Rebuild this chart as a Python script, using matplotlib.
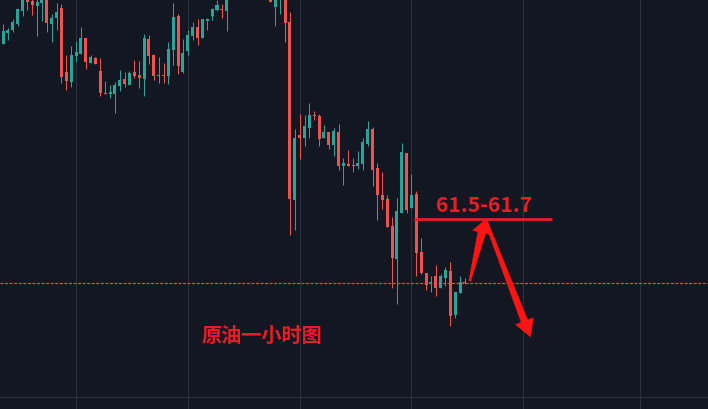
import matplotlib
matplotlib.use('Agg')
import matplotlib.pyplot as plt
from matplotlib.patches import Polygon
from matplotlib.transforms import IdentityTransform
import numpy as np

# ---------------- data (1-hour crude oil candles) ----------------
opens = [63.35, 63.46, 63.49, 63.55, 63.68, 63.86, 63.78, 63.73, 63.76, 63.84,
         63.55, 63.61, 63.71, 63.07, 62.97, 63.23, 63.25, 63.41, 63.16, 63.21,
         63.08, 62.85, 62.85, 62.85, 62.93, 63.00, 62.94, 63.07, 63.04, 63.00,
         63.40, 63.24, 63.04, 63.04, 63.03, 63.29, 63.63, 63.07, 63.28, 63.43,
         63.52, 63.41, 63.58, 63.63, 63.69, 63.70, 63.68, 63.85, 64.00, 64.10,
         64.02, 64.15, 64.08, 64.20, 64.06, 63.88, 63.72, 63.82, 63.84, 63.57,
         61.79, 62.44, 62.41, 62.51, 62.64, 62.63, 62.41, 62.47, 62.34, 62.47,
         62.13, 62.15, 62.13, 62.13, 62.15, 62.35, 62.50, 62.11, 61.84, 61.80,
         61.53, 61.20, 61.66, 62.26, 61.71, 61.85, 61.27, 61.06, 60.96, 61.03,
         60.91, 61.01, 61.08, 60.64, 60.86, 60.97]
highs = [63.55, 63.51, 63.60, 63.71, 63.88, 63.90, 63.83, 63.82, 63.86, 63.88,
         63.65, 63.76, 63.75, 63.24, 63.33, 63.38, 63.52, 63.41, 63.24, 63.22,
         63.21, 62.98, 62.94, 62.97, 63.09, 63.07, 63.08, 63.19, 63.18, 63.45,
         63.44, 63.25, 63.22, 63.16, 63.37, 63.76, 63.65, 63.40, 63.49, 63.57,
         63.60, 63.60, 63.61, 63.71, 63.79, 63.75, 63.90, 64.08, 64.18, 64.16,
         64.22, 64.20, 64.26, 64.24, 64.10, 63.92, 63.90, 63.92, 63.88, 63.67,
         62.50, 62.65, 62.64, 62.76, 62.68, 62.65, 62.54, 62.47, 62.51, 62.55,
         62.21, 62.29, 62.21, 62.28, 62.41, 62.58, 62.52, 62.16, 62.07, 61.84,
         61.62, 61.81, 62.36, 62.26, 62.05, 61.88, 61.41, 61.06, 61.03, 61.14,
         61.05, 61.12, 61.17, 60.87, 61.03, 61.01]
lows = [63.35, 63.39, 63.47, 63.53, 63.63, 63.69, 63.64, 63.43, 63.58, 63.47,
        63.37, 63.49, 62.96, 62.89, 62.92, 63.17, 63.25, 63.10, 63.16, 63.15,
        62.83, 62.85, 62.81, 62.66, 62.88, 62.92, 62.94, 63.01, 62.91, 62.83,
        63.15, 62.99, 62.96, 62.96, 62.95, 63.14, 63.05, 63.06, 63.24, 63.39,
        63.34, 63.41, 63.49, 63.59, 63.68, 63.61, 63.48, 63.82, 63.95, 63.98,
        63.96, 64.04, 64.04, 64.00, 63.84, 63.77, 63.53, 63.65, 63.37, 61.44,
        61.49, 62.20, 62.33, 62.41, 62.59, 62.33, 62.41, 62.30, 62.23, 62.09,
        61.94, 62.13, 62.07, 62.10, 62.09, 62.33, 61.93, 61.59, 61.70, 61.52,
        60.91, 60.75, 61.66, 61.66, 61.71, 61.03, 61.05, 60.89, 60.87, 60.83,
        60.91, 60.93, 60.53, 60.61, 60.86, 60.95]
closes = [63.48, 63.49, 63.57, 63.70, 63.84, 63.77, 63.74, 63.77, 63.83, 63.56,
          63.61, 63.67, 63.02, 62.98, 63.24, 63.27, 63.41, 63.17, 63.22, 63.15,
          62.86, 62.86, 62.87, 62.94, 62.99, 62.95, 63.06, 63.03, 63.01, 63.41,
          63.23, 63.03, 63.03, 63.035, 63.30, 63.62, 63.13, 63.26, 63.44, 63.52,
          63.41, 63.60, 63.60, 63.70, 63.74, 63.695, 63.85, 64.00, 64.10, 64.02,
          64.15, 64.08, 64.20, 64.06, 63.90, 63.77, 63.86, 63.88, 63.56, 61.80,
          62.41, 62.41, 62.53, 62.64, 62.635, 62.40, 62.47, 62.34, 62.48, 62.13,
          62.16, 62.13, 62.14, 62.16, 62.37, 62.50, 62.09, 61.84, 61.79, 61.52,
          61.21, 61.68, 62.27, 61.69, 61.84, 61.26, 61.06, 60.94, 60.97, 60.91,
          61.03, 61.09, 60.63, 60.87, 60.97, 60.965]

grid_idx = [15, 38, 61, 84, 107, 131]
target_level = 61.60
target_label = "61.5-61.7"
title_text = "原油一小时图"

# ---------------- style ----------------
BG = '#131722'
GRID = '#2d313d'
UP = '#26a69a'
DOWN = '#ef5350'
ANNO = '#ea1c24'
ARROW = '#fb1414'
PX = 0.72  # one pixel in points at dpi 100

plt.rcParams['font.family'] = ['Noto Sans CJK SC', 'DejaVu Sans']

W, H = 708, 410
fig = plt.figure(figsize=(W / 100, H / 100), dpi=100, facecolor=BG)
ax = fig.add_axes([0, 0, 1, 1])
ax.set_facecolor(BG)
ax.set_xlim(-0.638, 145.0)
ax.set_ylim(59.70, 63.80)
ax.axis('off')

# grid
for g in grid_idx:
    ax.axvline(g, color=GRID, lw=1.1 * PX, zorder=0)
ax.axhline(59.82, color=GRID, lw=1.1 * PX, zorder=0)

# candles
o = np.array(opens); h = np.array(highs); l = np.array(lows); c = np.array(closes)
x = np.arange(len(o))
cols = np.where(c >= o, UP, DOWN)
ax.vlines(x, l, h, colors=cols, lw=1.0 * PX, zorder=2)
bottom = np.minimum(o, c)
height = np.maximum(np.abs(c - o), 0.01)
ax.bar(x, height, bottom=bottom, width=0.62, color=cols, lw=0, zorder=3)

# last price dashed line
ax.axhline(closes[-1], color='#f5403f', lw=1.2 * PX, dashes=(2.6, 1.2), zorder=1)

# target line + label
ax.hlines(target_level, 84.5, 113.0, color=ANNO, lw=2.8 * PX, zorder=4)
ax.text(98.9, 61.683, target_label, color=ANNO, fontsize=15.2, fontweight='bold',
        ha='center', va='baseline', zorder=5)

# title text
ax.text(53.2, 60.45, title_text, color=ANNO, fontsize=14.5, fontweight='bold',
        ha='center', va='center', zorder=5)


def arrow_poly(p0, p1, w0, w1, hl, hw):
    a = ax.transData.transform(p0)
    b = ax.transData.transform(p1)
    d = b - a
    u = d / np.hypot(*d)
    n = np.array([-u[1], u[0]])
    base = b - u * hl
    verts = [a + n * w0 / 2, base + n * w1 / 2, base + n * hw / 2, b,
             base - n * hw / 2, base - n * w1 / 2, a - n * w0 / 2]
    return Polygon(verts, closed=True, transform=IdentityTransform(),
                   facecolor=ARROW, edgecolor=ARROW, lw=0.3, zorder=6)


fig.canvas.draw()
ax.add_patch(arrow_poly((96.0, 60.98), (99.1, 61.59), 2, 8, 13, 19))
ax.add_patch(arrow_poly((99.3, 61.58), (108.5, 60.42), 3, 7, 17, 19))

fig.savefig('out.png', dpi=100, facecolor=BG)
